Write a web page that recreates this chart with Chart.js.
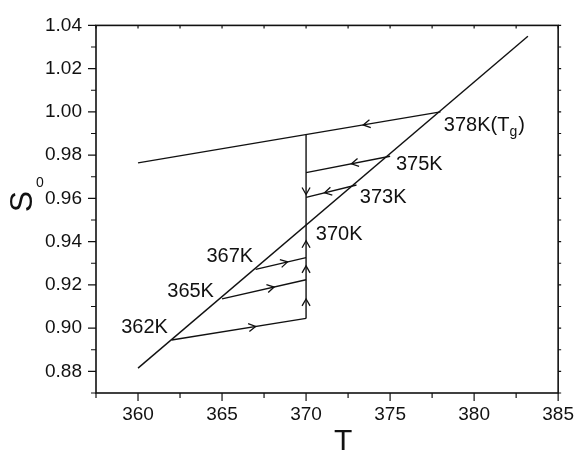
<!DOCTYPE html>
<html>
<head>
<meta charset="utf-8">
<script src="https://cdn.jsdelivr.net/npm/chart.js@4.4.1/dist/chart.umd.min.js"></script>
<style>
  html, body { margin: 0; padding: 0; background: #fff; }
  #wrap { width: 584px; height: 453px; }
</style>
</head>
<body>
<div id="wrap"><canvas id="chart"></canvas></div>
<script>
// Equilibrium line and glass line
const eqT = [360, 383.2];
const eqS = [0.8815, 1.035];
const glassT = [360, 378];
const glassS = [0.9764, 1.0];

// Annealing branches: start on the equilibrium line, end on the T = 370 line
const branchT = [362, 365, 367, 373, 375];
const branchFrom = [0.8945, 0.9135, 0.9272, 0.9662, 0.9795];
const branchTo = [0.9045, 0.9224, 0.9326, 0.9605, 0.9719];

// Vertical path at T = 370
const vertT = 370;
const vertS = [0.9045, 0.9894];

// Arrowheads: dataset index, position along it (T, or S on the vertical),
// direction (+1 = from first point towards second)
const arrowLine = [1, 7, 6, 2, 3, 4, 5, 2, 2, 2];
const arrowAt = [373.4, 372.7, 371.1, 0.9618, 367.0, 368.1, 368.9, 0.9135, 0.9288, 0.9404];
const arrowDir = [-1, 1, 1, -1, 1, 1, 1, 1, 1, 1];

// Axis ranges and ticks
const xMin = 357.5, xMax = 385, xStep = 2.5;
const yMin = 0.87, yMax = 1.04, yStep = 0.01;

const FONT = "'Liberation Sans', Arial, sans-serif";
const INK = '#111';

function seg(xs, ys) {
  return xs.map((x, i) => ({ x: x, y: ys[i] }));
}

const datasets = [
  { data: seg(eqT, eqS) },
  { data: seg(glassT, glassS) },
  { data: seg([vertT, vertT], vertS) }
];
branchT.forEach((t, i) => {
  datasets.push({ data: seg([t, vertT], [branchFrom[i], branchTo[i]]) });
});
datasets.forEach(d => {
  d.showLine = true;
  d.borderColor = INK;
  d.borderWidth = 1.4;
  d.pointRadius = 0;
  d.fill = false;
});

// Text labels placed in data units (left edge, vertical centre)
const textLabels = [
  { text: '362K', x: 359.0, y: 0.9005 },
  { text: '365K', x: 361.74, y: 0.9171 },
  { text: '367K', x: 364.07, y: 0.9332 },
  { text: '370K', x: 370.58, y: 0.9435 },
  { text: '373K', x: 373.2, y: 0.9605 },
  { text: '375K', x: 375.35, y: 0.9758 }
];

const decorPlugin = {
  id: 'decor',
  afterDraw(chart) {
    const ctx = chart.ctx;
    const a = chart.chartArea;
    const xs = chart.scales.x, ys = chart.scales.y;
    ctx.save();
    ctx.strokeStyle = INK;
    ctx.fillStyle = INK;

    // frame
    ctx.lineWidth = 1.6;
    ctx.strokeRect(a.left, a.top, a.right - a.left, a.bottom - a.top);

    // ticks
    ctx.lineWidth = 1.2;
    ctx.beginPath();
    for (let i = 0; xMin + i * xStep <= xMax + 1e-9; i++) {
      const v = xMin + i * xStep;
      const px = xs.getPixelForValue(v);
      const major = Math.abs(v / 5 - Math.round(v / 5)) < 1e-6;
      const len = major ? 8 : 5;
      ctx.moveTo(px, a.bottom);
      ctx.lineTo(px, a.bottom + len);
      ctx.moveTo(px, a.top);
      ctx.lineTo(px, a.top + 3);
    }
    for (let i = 0; yMin + i * yStep <= yMax + 1e-9; i++) {
      const v = yMin + i * yStep;
      const py = ys.getPixelForValue(v);
      const major = Math.round(v * 100) % 2 === 0;
      const len = major ? 8 : 5;
      ctx.moveTo(a.left, py);
      ctx.lineTo(a.left - len, py);
      ctx.moveTo(a.right, py);
      ctx.lineTo(a.right + 3, py);
    }
    ctx.stroke();

    // arrowheads
    ctx.lineWidth = 1.3;
    arrowLine.forEach((di, i) => {
      const pts = chart.data.datasets[di].data;
      const x0 = xs.getPixelForValue(pts[0].x), y0 = ys.getPixelForValue(pts[0].y);
      const x1 = xs.getPixelForValue(pts[1].x), y1 = ys.getPixelForValue(pts[1].y);
      let tx, ty;
      if (Math.abs(x1 - x0) < 0.5) {
        tx = x0;
        ty = ys.getPixelForValue(arrowAt[i]);
      } else {
        tx = xs.getPixelForValue(arrowAt[i]);
        ty = y0 + (tx - x0) / (x1 - x0) * (y1 - y0);
      }
      const L = Math.hypot(x1 - x0, y1 - y0);
      const ux = (x1 - x0) / L * arrowDir[i], uy = (y1 - y0) / L * arrowDir[i];
      const bx = tx - ux * 7, by = ty - uy * 7;
      ctx.beginPath();
      ctx.moveTo(bx - uy * 4, by + ux * 4);
      ctx.lineTo(tx, ty);
      ctx.lineTo(bx + uy * 4, by - ux * 4);
      ctx.stroke();
    });

    // point labels
    ctx.font = '20px ' + FONT;
    ctx.textAlign = 'left';
    ctx.textBaseline = 'middle';
    textLabels.forEach(l => {
      ctx.fillText(l.text, xs.getPixelForValue(l.x), ys.getPixelForValue(l.y));
    });

    // 378K(Tg) with subscript
    let lx = xs.getPixelForValue(378.2), ly = ys.getPixelForValue(0.9937);
    ctx.fillText('378K(T', lx, ly);
    lx += ctx.measureText('378K(T').width;
    ctx.font = '14px ' + FONT;
    ctx.fillText('g', lx, ly + 7);
    lx += ctx.measureText('g').width + 1;
    ctx.font = '20px ' + FONT;
    ctx.fillText(')', lx, ly);

    // axis titles
    ctx.font = '30px ' + FONT;
    ctx.textAlign = 'center';
    ctx.textBaseline = 'alphabetic';
    ctx.fillText('T', (a.left + a.right) / 2 + 16, 450);

    ctx.save();
    ctx.translate(32, 201.5);
    ctx.rotate(-Math.PI / 2);
    ctx.font = '32px ' + FONT;
    ctx.fillText('S', 0, 0);
    ctx.restore();
    ctx.font = '14px ' + FONT;
    ctx.textBaseline = 'middle';
    ctx.fillText('0', 40, 183);

    ctx.restore();
  }
};

new Chart(document.getElementById('chart'), {
  type: 'scatter',
  data: { datasets: datasets },
  options: {
    responsive: true,
    maintainAspectRatio: false,
    animation: false,
    layout: { padding: { top: 14, right: 17, left: 0, bottom: 0 } },
    plugins: {
      legend: { display: false },
      tooltip: { enabled: false }
    },
    scales: {
      x: {
        type: 'linear',
        min: xMin,
        max: xMax,
        afterFit: s => { s.height = 60; },
        grid: { display: false, drawTicks: false },
        border: { display: false },
        ticks: {
          stepSize: xStep,
          padding: 10,
          autoSkip: false,
          maxRotation: 0,
          color: INK,
          font: { family: FONT, size: 19 },
          callback: v => (Math.abs(v / 5 - Math.round(v / 5)) < 1e-6 ? String(Math.round(v)) : '')
        }
      },
      y: {
        type: 'linear',
        min: yMin,
        max: yMax,
        afterFit: s => { s.width = 96; },
        grid: { display: false, drawTicks: false },
        border: { display: false },
        ticks: {
          stepSize: yStep,
          padding: 14,
          autoSkip: false,
          color: INK,
          font: { family: FONT, size: 19 },
          callback: v => (Math.round(v * 100) % 2 === 0 ? v.toFixed(2) : '')
        }
      }
    }
  },
  plugins: [decorPlugin]
});
</script>
</body>
</html>
